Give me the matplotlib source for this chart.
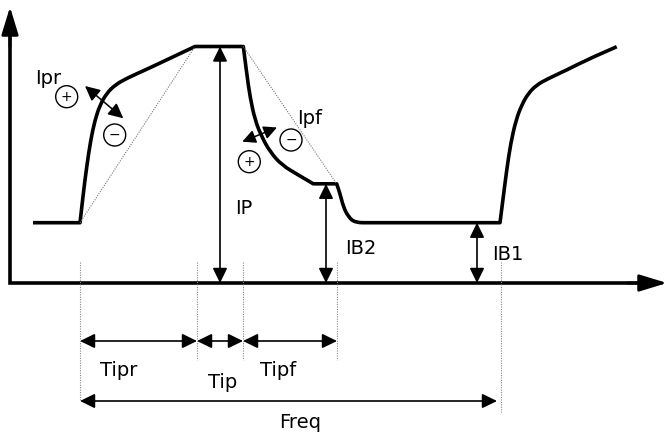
import matplotlib
matplotlib.use("Agg")
import matplotlib.pyplot as plt
from matplotlib.patches import Circle, PathPatch
from matplotlib.path import Path

# ---- data (in picture units: x to the right, y downward) ----
# waveform sections: straight parts and curved parts
base_left_x = [33, 80]
base_left_y = [222.7, 222.7]
rise_x = [80, 83.3, 86.7, 90.7, 95, 100, 106.7, 115, 126.7, 146.7, 170, 195]
rise_y = [222.7, 193.3, 166.7, 140, 120, 105, 93.3, 85, 78.3, 69.3, 58.3, 46.5]
peak_x = [195, 243.3]
peak_y = [46.5, 46.5]
fall_x = [243.3, 246.7, 250, 255, 261.7, 270, 281.7, 298.3, 313.3]
fall_y = [46.5, 73.3, 96.7, 120, 136.7, 151.7, 165, 175, 183.8]
ib2_x = [313.3, 336.7]
ib2_y = [183.8, 183.8]
drop_x = [336.7, 340, 343.3, 348.3, 355, 363]
drop_y = [183.8, 193.3, 206.7, 216.7, 222.7, 222.7]
ib1_x = [363, 500]
ib1_y = [222.7, 222.7]
rise2_x = [500, 503.3, 506.7, 510.7, 516, 521.7, 528.3, 536.7, 546.7, 566.7, 590, 616.7]
rise2_y = [222.7, 196.7, 170, 143.3, 120, 105, 93.3, 85, 79.3, 70, 58.3, 46.7]

axis_origin = (10, 283)
axis_x_end = 667
axis_y_end = 7

diag_lines = [((80, 222.7), (195, 46.5)), ((243.3, 46.5), (336.7, 183.8))]

vdot_x = [80, 197, 243, 337, 501]
vdot_top = [262, 262, 262, 262, 262]
vdot_bottom = [401, 360, 360, 360, 412]

vert_dims_x = [220, 326, 477]
vert_dims_top = [46.5, 183.8, 222.7]
vert_dims_bottom = [283, 283, 283]

horiz_dims = [(80, 197, 341), (197, 243, 341), (243, 337, 341), (80, 497, 401)]

slope_arrows = [((85, 86), (123.3, 118.3)), ((242.3, 141.7), (277, 127.5))]
slope_head_len = [0.45, 0.4]
slope_head_wid = [0.22, 0.2]

circ_signs = ["+", "\u2212", "\u2212", "+"]
circ_x = [66.7, 114.7, 291, 249.3]
circ_y = [96.7, 135, 140, 161.7]

labels = ["Ipr", "Ipf", "IP", "IB2", "IB1", "Tipr", "Tip", "Tipf", "Freq"]
label_x = [48, 310, 244, 361, 508, 119, 223, 278, 300]
label_y = [79, 118, 209, 249, 254, 370, 382, 370, 422]

W, H = 670, 437
fig = plt.figure(figsize=(W / 100, H / 100), dpi=100)
ax = fig.add_axes([0, 0, 1, 1])
ax.set_xlim(0, W)
ax.set_ylim(H, 0)
ax.axis("off")

# axes: one L-shaped stroke plus arrow heads
ox, oy = axis_origin
ax.plot([ox, ox, axis_x_end - 20], [axis_y_end + 20, oy, oy], color="black",
        lw=2.6, solid_joinstyle="miter", solid_capstyle="butt")
head = "-|>,head_length=0.85,head_width=0.26"
ax.annotate("", xy=(axis_x_end, oy), xytext=(axis_x_end - 40, oy),
            arrowprops=dict(arrowstyle=head, mutation_scale=20, lw=2.0,
                            color="black", shrinkA=0, shrinkB=0))
ax.annotate("", xy=(ox, axis_y_end), xytext=(ox, axis_y_end + 40),
            arrowprops=dict(arrowstyle=head, mutation_scale=20, lw=2.0,
                            color="black", shrinkA=0, shrinkB=0))

# dotted guide lines
for (p0, p1) in diag_lines:
    ax.plot([p0[0], p1[0]], [p0[1], p1[1]], color="#777777", lw=0.8,
            linestyle=(0, (1, 1.2)))
for x, t, b in zip(vdot_x, vdot_top, vdot_bottom):
    ax.plot([x, x], [t, b], color="#888888", lw=0.8, linestyle=(0, (1, 1.2)))


# waveform: straight runs as lines, curved runs rendered as smooth quadratic path
def add_section(verts, codes, xs, ys, smooth):
    pts = list(zip(xs, ys))
    if not verts:
        verts.append(pts[0])
        codes.append(Path.MOVETO)
    if not smooth or len(pts) < 3:
        for p in pts[1:]:
            verts.append(p)
            codes.append(Path.LINETO)
        return
    for i in range(1, len(pts) - 1):
        mid = ((pts[i][0] + pts[i + 1][0]) / 2, (pts[i][1] + pts[i + 1][1]) / 2)
        if i == len(pts) - 2:
            mid = pts[-1]
        verts.extend([pts[i], mid])
        codes.extend([Path.CURVE3, Path.CURVE3])


verts, codes = [], []
sections = [(base_left_x, base_left_y, False), (rise_x, rise_y, True),
            (peak_x, peak_y, False), (fall_x, fall_y, True),
            (ib2_x, ib2_y, False), (drop_x, drop_y, True),
            (ib1_x, ib1_y, False), (rise2_x, rise2_y, True)]
for xs, ys, sm in sections:
    add_section(verts, codes, xs, ys, sm)
ax.add_patch(PathPatch(Path(verts, codes), fill=False, ec="black", lw=2.6,
                       joinstyle="round", capstyle="butt"))

dim_style = "<|-|>,head_length=0.45,head_width=0.22"
for x, t, b in zip(vert_dims_x, vert_dims_top, vert_dims_bottom):
    ax.annotate("", xy=(x, t), xytext=(x, b),
                arrowprops=dict(arrowstyle=dim_style, mutation_scale=20, lw=1.2,
                                color="black", shrinkA=0, shrinkB=0))
for x0, x1, y in horiz_dims:
    ax.annotate("", xy=(x1, y), xytext=(x0, y),
                arrowprops=dict(arrowstyle=dim_style, mutation_scale=20, lw=1.2,
                                color="black", shrinkA=0, shrinkB=0))
for (p0, p1), hl, hw in zip(slope_arrows, slope_head_len, slope_head_wid):
    ax.annotate("", xy=p1, xytext=p0,
                arrowprops=dict(arrowstyle=f"<|-|>,head_length={hl},head_width={hw}",
                                mutation_scale=20, lw=1.1,
                                color="black", shrinkA=0, shrinkB=0))

for s, x, y in zip(circ_signs, circ_x, circ_y):
    ax.add_patch(Circle((x, y), 11, fill=False, ec="black", lw=1.0))
    ax.text(x, y, s, ha="center", va="center", fontsize=10, color="black")

for t, x, y in zip(labels, label_x, label_y):
    ax.text(x, y, t, ha="center", va="center", fontsize=14, color="black",
            family="DejaVu Sans")

fig.savefig("out.png", dpi=100)
